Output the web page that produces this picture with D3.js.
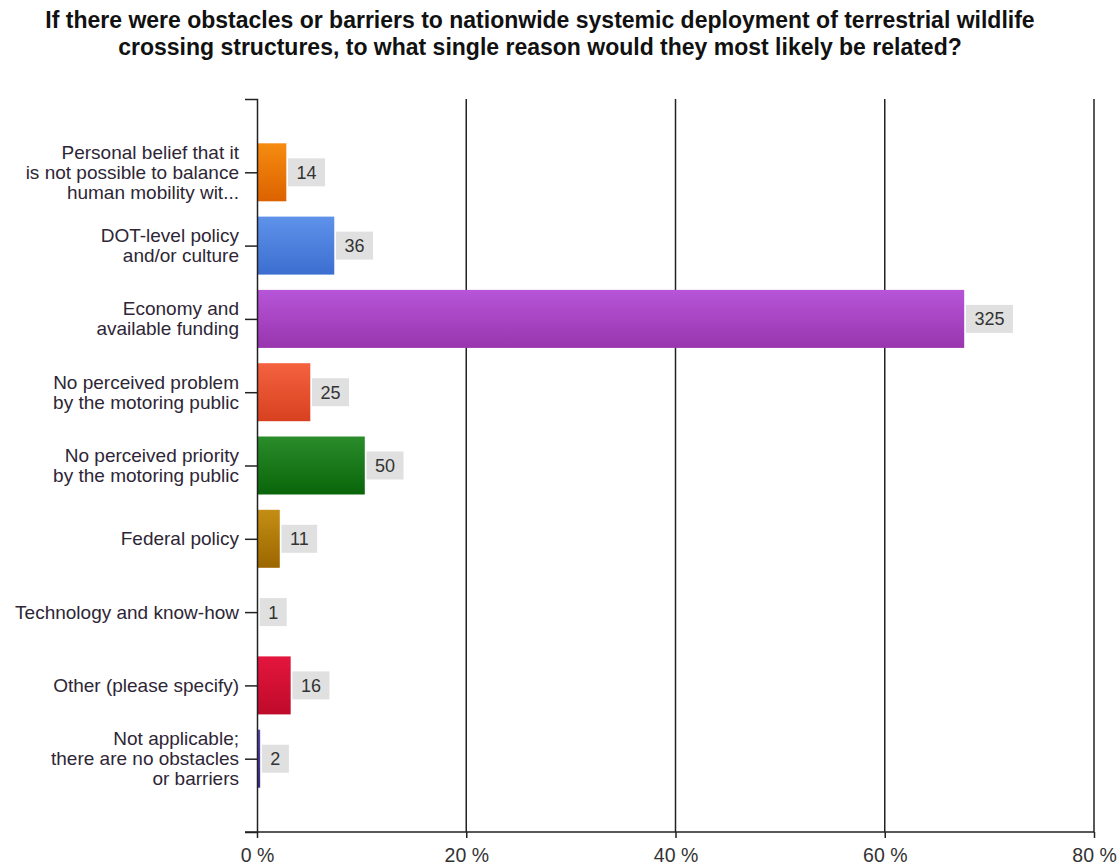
<!DOCTYPE html>
<html>
<head>
<meta charset="utf-8">
<script src="https://cdn.jsdelivr.net/npm/d3@7/dist/d3.min.js"></script>
<style>
  html, body { margin: 0; padding: 0; background: #fff; }
  svg { display: block; }
</style>
</head>
<body>
<svg id="chart" width="1118" height="866"></svg>
<script>
const titleLines = [
  "If there were obstacles or barriers to nationwide systemic deployment of terrestrial wildlife",
  "crossing structures, to what single reason would they most likely be related?"
];
const categories = [
  "Personal belief that it|is not possible to balance|human mobility wit...",
  "DOT-level policy|and/or culture",
  "Economy and|available funding",
  "No perceived problem|by the motoring public",
  "No perceived priority|by the motoring public",
  "Federal policy",
  "Technology and know-how",
  "Other (please specify)",
  "Not applicable;|there are no obstacles|or barriers"
];
const counts = [14, 36, 325, 25, 50, 11, 1, 16, 2];
const colorsTop = ["#f68c10", "#5f92ea", "#b655d8", "#f4623f", "#2a8c2a", "#c48e14", "#2aa0a0", "#e4163e", "#5a44b0"];
const colorsBottom = ["#dc6200", "#3c6ed0", "#9835ae", "#d8411f", "#0a650a", "#9c6600", "#107878", "#bf0a2a", "#3a2888"];
const tickValues = [0, 0.2, 0.4, 0.6, 0.8];
const tickLabels = ["0 %", "20 %", "40 %", "60 %", "80 %"];

const total = d3.sum(counts);
const data = categories.map((c, i) => ({ cat: c, count: counts[i], pct: counts[i] / total, i }));

const svg = d3.select("#chart");
const mLeft = 257, mRight = 1094, mTop = 99, mBottom = 832;
const FONT = "Liberation Sans, Arial, sans-serif";

const x = d3.scaleLinear().domain([0, 0.8]).range([mLeft, mRight]);
const y = d3.scalePoint().domain(categories).range([mTop, mBottom]).padding(1);
const barH = 58;

// gradients
const defs = svg.append("defs");
data.forEach(d => {
  const g = defs.append("linearGradient").attr("id", "g" + d.i)
    .attr("x1", 0).attr("y1", 0).attr("x2", 0).attr("y2", 1);
  g.append("stop").attr("offset", "0%").attr("stop-color", colorsTop[d.i]);
  g.append("stop").attr("offset", "100%").attr("stop-color", colorsBottom[d.i]);
});

// title
const title = svg.append("text")
  .attr("x", 540).attr("y", 28)
  .attr("text-anchor", "middle")
  .attr("font-family", FONT)
  .attr("font-weight", "bold").attr("font-size", 23).attr("fill", "#111");
titleLines.forEach((t, k) => {
  title.append("tspan").attr("x", 540).attr("dy", k === 0 ? 0 : 27).text(t);
});

// gridlines
svg.append("g").selectAll("line").data(tickValues.filter(v => v > 0)).join("line")
  .attr("x1", d => x(d)).attr("x2", d => x(d))
  .attr("y1", mTop).attr("y2", mBottom)
  .attr("stroke", "#222").attr("stroke-width", 1.5);

// bars
svg.append("g").selectAll("rect").data(data).join("rect")
  .attr("x", x(0))
  .attr("y", d => y(d.cat) - barH / 2)
  .attr("width", d => Math.max(0, x(d.pct) - x(0) - 1.2))
  .attr("height", barH)
  .attr("fill", d => "url(#g" + d.i + ")");

// value labels with grey boxes
const lab = svg.append("g").selectAll("g").data(data).join("g")
  .attr("transform", d => `translate(${x(d.pct) + 0.5},${y(d.cat)})`);
lab.each(function(d) {
  const gg = d3.select(this);
  const rect = gg.append("rect").attr("fill", "#e0e0e0");
  const t = gg.append("text").text(d.count)
    .attr("x", 8.5).attr("y", 6.5)
    .attr("font-family", FONT)
    .attr("font-size", 18).attr("fill", "#333");
  const w = t.node().getComputedTextLength();
  rect.attr("x", 0).attr("y", -14).attr("width", w + 17).attr("height", 28);
});

// y axis
const yAxis = svg.append("g").attr("transform", `translate(${mLeft},0)`)
  .call(d3.axisLeft(y).tickSize(12).tickSizeOuter(12).tickFormat(""));
yAxis.selectAll("path, line").attr("stroke", "#222").attr("stroke-width", 1.5);

// category labels (multi-line)
const catG = svg.append("g");
data.forEach(d => {
  const lines = d.cat.split("|");
  const lh = 20;
  const t = catG.append("text")
    .attr("text-anchor", "end")
    .attr("font-family", FONT)
    .attr("font-size", 19).attr("fill", "#2e2636");
  lines.forEach((l, k) => {
    t.append("tspan").attr("x", 239)
      .attr("y", y(d.cat) + 6.5 + (k - (lines.length - 1) / 2) * lh)
      .text(l);
  });
});

// x axis
const xAxis = svg.append("g").attr("transform", `translate(0,${mBottom})`)
  .call(d3.axisBottom(x).tickValues(tickValues).tickSize(6).tickSizeOuter(0)
    .tickFormat((d, i) => tickLabels[i]));
xAxis.select(".domain").remove();
xAxis.append("line").attr("x1", mLeft - 12).attr("x2", mRight).attr("y1", 0).attr("y2", 0)
  .attr("stroke", "#222").attr("stroke-width", 1.5);
xAxis.selectAll(".tick line").attr("stroke", "#222").attr("stroke-width", 1.5);
xAxis.selectAll(".tick text")
  .attr("y", 30).attr("dy", null)
  .attr("font-family", FONT)
  .attr("font-size", 19.5).attr("fill", "#333");
</script>
</body>
</html>
